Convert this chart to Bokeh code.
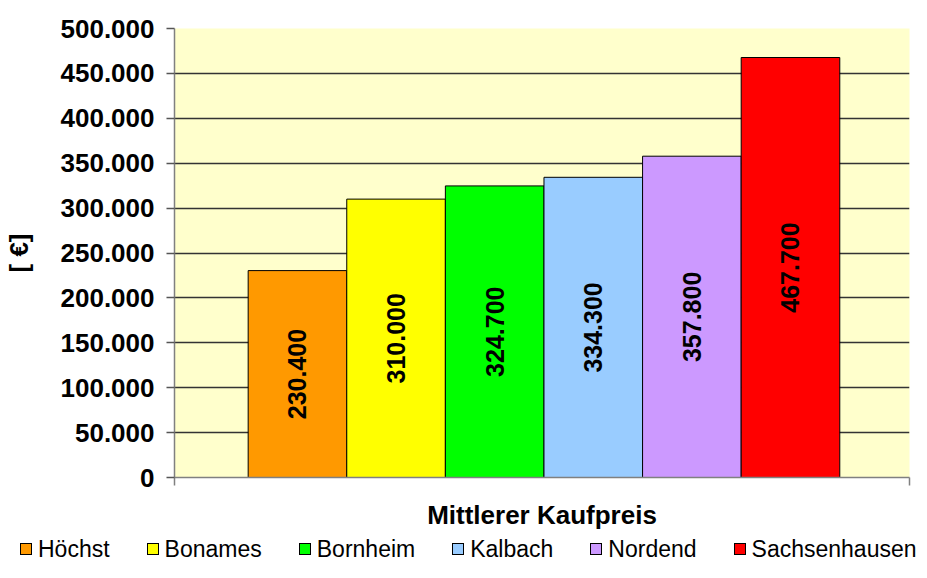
import math
from bokeh.plotting import figure
from bokeh.layouts import column
from bokeh.core.properties import value
from bokeh.models import (ColumnDataSource, Range1d, FixedTicker, CustomJSTickFormatter,
                          LabelSet, Div)
from bokeh.embed import file_html
from bokeh.resources import INLINE

districts = ["Höchst", "Bonames", "Bornheim", "Kalbach", "Nordend", "Sachsenhausen"]
prices = [230400, 310000, 324700, 334300, 357800, 467700]
colors = ["#FF9900", "#FFFF00", "#00FF00", "#99CCFF", "#CC99FF", "#FF0000"]
y_ticks = [0, 50000, 100000, 150000, 200000, 250000, 300000, 350000, 400000, 450000, 500000]
x_title = "Mittlerer Kaufpreis"
y_title = "[ €]"

FONT = "Liberation Sans"
X0, X1 = -1.247, 6.207
LEFT, RIGHT = 172, 2

src = ColumnDataSource(dict(
    x=list(range(len(districts))),
    top=prices,
    mid=[v / 2 for v in prices],
    color=colors,
    name=districts,
    label=[format(v, ",").replace(",", ".") for v in prices],
))

p = figure(width=911, height=532, output_backend="svg", toolbar_location=None,
           x_range=Range1d(X0, X1), y_range=Range1d(0, 500000),
           min_border_left=LEFT, min_border_right=RIGHT, min_border_top=28, min_border_bottom=50)
p.border_fill_color = "white"
p.outline_line_color = None
p.background_fill_color = "#FFFFCC"

r = p.vbar(x="x", top="top", width=1.0, source=src, fill_color="color",
           line_color="black", line_width=1)

labels = LabelSet(x="x", y="mid", text="label", source=src, angle=math.pi / 2,
                  text_align="center", text_baseline="middle",
                  text_font=value(FONT), text_font_style="bold", text_font_size="25px",
                  text_color="black")
p.add_layout(labels)

# y axis
ya = p.yaxis[0]
ya.ticker = FixedTicker(ticks=y_ticks)
ya.formatter = CustomJSTickFormatter(code="return Math.round(tick).toString().replace(/\\B(?=(\\d{3})+(?!\\d))/g, '.');")
ya.major_label_text_font = FONT
ya.major_label_text_font_style = "bold"
ya.major_label_text_font_size = "26px"
ya.major_label_text_color = "black"
ya.major_label_standoff = 12
ya.major_tick_out = 8
ya.major_tick_in = 0
ya.minor_tick_line_color = None
ya.axis_line_color = "#808080"
ya.axis_line_width = 1.5
ya.major_tick_line_color = "#555555"
ya.major_tick_line_width = 1.5
ya.axis_label = y_title
ya.axis_label_text_font = FONT
ya.axis_label_text_font_style = "bold"
ya.axis_label_text_font_size = "26px"
ya.axis_label_text_color = "black"
ya.axis_label_standoff = 24

# x axis
xa = p.xaxis[0]
xa.ticker = FixedTicker(ticks=[X0, X1])
xa.major_label_overrides = {X0: "", X1: ""}
xa.major_label_standoff = 0
xa.major_tick_out = 8
xa.major_tick_in = 0
xa.minor_tick_line_color = None
xa.axis_line_color = "#808080"
xa.axis_line_width = 1.5
xa.major_tick_line_color = "#808080"
xa.major_tick_line_width = 1.5
xa.axis_label = x_title
xa.axis_label_text_font = FONT
xa.axis_label_text_font_style = "bold"
xa.axis_label_text_font_size = "26px"
xa.axis_label_text_color = "black"
xa.axis_label_standoff = 14

p.xgrid.grid_line_color = None
p.ygrid.ticker = FixedTicker(ticks=y_ticks)
p.ygrid.grid_line_color = "#333333"
p.ygrid.grid_line_width = 1.5

# legend strip below the chart, built from the same names and colours
item_html = "".join(
    '<span style="display:inline-flex;align-items:center;margin-right:37px;">'
    f'<span style="display:inline-block;width:12px;height:12px;background:{c};'
    'border:1px solid #000;margin-right:6px;"></span>'
    f'{d}</span>'
    for d, c in zip(districts, colors)
)
legend_html = (
    f'<div style="display:flex;align-items:flex-end;height:30px;padding-left:20px;'
    f'font-family:\'{FONT}\';font-size:23px;line-height:26px;color:#000;white-space:nowrap;">'
    f'{item_html}</div>'
)
legend_div = Div(text=legend_html, width=911, height=30, margin=0,
                 styles={"overflow": "visible"})

layout = column(p, legend_div, spacing=0)
open("out.html", "w").write(file_html(layout, INLINE))
